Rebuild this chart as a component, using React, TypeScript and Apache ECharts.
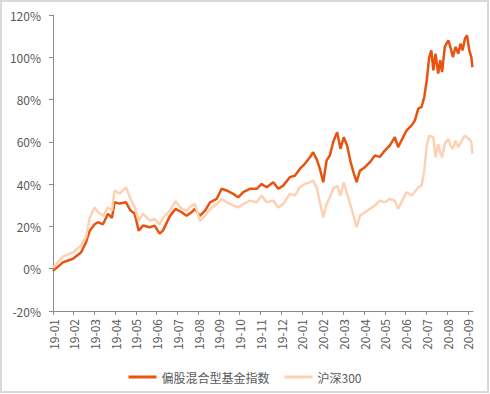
import React, { useEffect, useRef } from "react";
import * as echarts from "echarts";

// month positions (0 = start of 2019-01), values in %
const monthPos = [
  0.0, 0.48, 0.96, 1.35, 1.59, 1.77, 2.01, 2.17, 2.41, 2.65, 2.84, 2.97, 3.21, 3.52, 3.74, 3.94,
  4.13, 4.34, 4.66, 4.9, 5.14, 5.3, 5.64, 5.91, 6.2, 6.44, 6.68, 6.84, 7.08, 7.33, 7.57, 7.89,
  8.13, 8.37, 8.69, 8.93, 9.17, 9.49, 9.82, 10.06, 10.3, 10.62, 10.86, 11.1, 11.42, 11.66, 11.9,
  12.14, 12.39, 12.54, 12.71, 12.87, 13.03, 13.19, 13.35, 13.51, 13.7, 13.86, 14.02, 14.18, 14.35,
  14.51, 14.64, 14.8, 15.04, 15.28, 15.52, 15.76, 16.0, 16.24, 16.48, 16.64, 16.84, 17.05, 17.29,
  17.45, 17.61, 17.77, 17.9, 18.02, 18.14, 18.24, 18.34, 18.44, 18.57, 18.67, 18.76, 18.89, 19.06,
  19.18, 19.28, 19.41, 19.54, 19.65, 19.75, 19.86, 19.96, 20.07, 20.17, 20.22,
];

const fundIndex = [
  -1.0, 3.0, 4.7, 7.7, 12.5, 18.0, 21.0, 22.0, 21.0, 26.0, 24.0, 31.4, 30.8, 31.4, 27.5, 26.0,
  18.0, 20.4, 19.6, 20.4, 16.6, 18.0, 25.0, 28.3, 26.7, 25.0, 26.7, 28.3, 25.0, 27.5, 31.4, 33.0,
  37.8, 37.0, 35.4, 33.8, 36.2, 37.8, 37.8, 40.1, 38.5, 40.9, 37.8, 39.3, 43.3, 44.0, 47.2,
  49.6, 52.7, 55.1, 51.9, 47.2, 40.9, 51.2, 53.6, 59.9, 64.6, 56.7, 62.2, 58.3, 50.4,
  44.9, 40.9, 46.4, 48.0, 50.4, 53.6, 52.9, 55.9, 58.3, 62.2, 57.5, 61.4, 65.4, 67.8,
  70.1, 75.7, 76.5, 81.2, 89.1, 100.1, 103.3, 93.8, 101.7, 92.3, 98.6, 93.0, 104.9, 108.0,
  104.1, 100.1, 104.9, 101.7, 106.5, 103.3, 108.8, 110.4, 103.3, 100.1, 95.4,
];

const hs300 = [
  0.5, 5.7, 7.7, 11.0, 15.0, 24.0, 29.0, 26.7, 25.0, 29.0, 27.5, 37.0, 35.5, 38.5, 33.0, 29.0,
  22.7, 26.0, 22.7, 23.5, 21.0, 24.0, 27.5, 31.9, 28.3, 27.5, 29.9, 30.6, 22.7, 25.0, 28.3, 30.6,
  33.0, 31.4, 29.9, 29.0, 30.6, 32.2, 31.4, 34.6, 31.4, 32.2, 29.0, 30.6, 35.4, 34.6, 38.5,
  40.1, 40.9, 41.7, 38.5, 31.4, 24.3, 30.6, 33.8, 37.8, 39.3, 34.6, 40.9, 35.4, 29.9,
  24.3, 19.6, 25.1, 26.7, 28.3, 29.9, 32.2, 31.4, 33.0, 32.2, 28.3, 32.2, 36.2, 34.6,
  36.5, 38.5, 39.3, 46.4, 58.3, 63.0, 62.5, 62.2, 52.7, 59.0, 55.0, 52.7, 59.1, 61.4,
  58.0, 56.7, 60.6, 57.5, 59.5, 61.4, 63.0, 62.0, 61.4, 59.9, 54.3,
];

const monthLabels = [
  "19-01", "19-02", "19-03", "19-04", "19-05", "19-06", "19-07", "19-08", "19-09", "19-10",
  "19-11", "19-12", "20-01", "20-02", "20-03", "20-04", "20-05", "20-06", "20-07", "20-08", "20-09",
];

const seriesNames = ["偏股混合型基金指数", "沪深300"];

export default function App() {
  const ref = useRef<HTMLDivElement>(null);
  useEffect(() => {
    document.body.style.margin = "0";
    const chart = echarts.init(ref.current!, null, { renderer: "svg" });
    const font = "'Noto Sans CJK SC', 'Noto Sans', sans-serif";
    const textColor = "#595959";
    const axisColor = "#8c8c8c";
    chart.setOption({
      animation: false,
      backgroundColor: "#ffffff",
      graphic: [
        {
          type: "rect",
          shape: { x: 1, y: 1, width: 487, height: 391 },
          style: { fill: "none", stroke: "#d9d9d9", lineWidth: 2 },
          silent: true,
        },
      ],
      grid: { left: 53, top: 15, right: 17, bottom: 83 },
      legend: {
        top: 366,
        left: "center",
        itemWidth: 28,
        itemHeight: 3,
        itemGap: 15,
        textStyle: { color: textColor, fontSize: 12, fontFamily: font },
        data: seriesNames.map((n) => ({ name: n, icon: "rect" })),
      },
      xAxis: {
        type: "value",
        min: 0,
        max: 20.25,
        interval: 1,
        splitLine: { show: false },
        axisLine: { show: true, onZero: false, lineStyle: { color: axisColor, width: 1 } },
        axisTick: {
          show: true,
          length: 4,
          lineStyle: { color: axisColor },
          customValues: monthLabels.map((_, i) => i),
        },
        axisLabel: {
          rotate: 90,
          margin: 8,
          color: textColor,
          fontSize: 12,
          fontFamily: font,
          customValues: monthLabels.map((_, i) => i),
          formatter: (v: number) => monthLabels[Math.round(v)] ?? "",
        },
      },
      yAxis: {
        type: "value",
        min: -20,
        max: 120,
        interval: 20,
        splitLine: { show: false },
        axisLine: { show: true, lineStyle: { color: axisColor, width: 1 } },
        axisTick: { show: true, length: 4, lineStyle: { color: axisColor } },
        axisLabel: {
          margin: 12,
          color: textColor,
          fontSize: 12,
          fontFamily: font,
          formatter: (v: number) => `${v}%`,
        },
      },
      series: [
        {
          name: seriesNames[0],
          type: "line",
          showSymbol: false,
          symbol: "none",
          color: "#E8530F",
          lineStyle: { width: 2.5, color: "#E8530F" },
          data: monthPos.map((m, i) => [m, fundIndex[i]]),
        },
        {
          name: seriesNames[1],
          type: "line",
          showSymbol: false,
          symbol: "none",
          color: "#FDD1B2",
          lineStyle: { width: 2.5, color: "#FDD1B2" },
          data: monthPos.map((m, i) => [m, hs300[i]]),
        },
      ],
    });
    return () => chart.dispose();
  }, []);
  return <div ref={ref} style={{ width: 490, height: 394 }} />;
}
